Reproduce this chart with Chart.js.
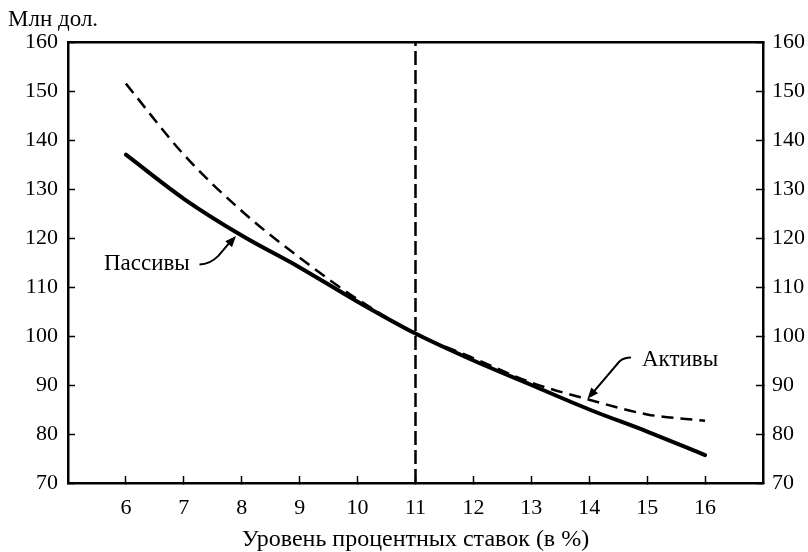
<!DOCTYPE html>
<html>
<head>
<meta charset="utf-8">
<script src="https://cdn.jsdelivr.net/npm/chart.js@4"></script>
<style>
  html, body { margin: 0; padding: 0; background: #fff; }
</style>
</head>
<body>
<canvas id="chart" width="808" height="552"></canvas>
<script>
const rates = [6, 7, 8, 9, 10, 11, 12, 13, 14, 15, 16];
const liabilities = [137, 128, 120.5, 114, 107, 100.5, 95, 90, 85, 80.5, 75.7];
const assets = [151.5, 137, 125.5, 116, 107.5, 100.5, 95.5, 90.5, 87, 84, 82.7];
const xTicks = [6, 7, 8, 9, 10, 11, 12, 13, 14, 15, 16];
const yTicks = [70, 80, 90, 100, 110, 120, 130, 140, 150, 160];
const markerRate = 11;

const serif = '"Liberation Serif", "DejaVu Serif", serif';
Chart.defaults.font.family = serif;
Chart.defaults.font.size = 22;
Chart.defaults.color = "#000";

const toPoints = (ys) => rates.map((r, i) => ({ x: r, y: ys[i] }));

function arrowHead(ctx, fx, fy, tx, ty, len, wid) {
  const a = Math.atan2(ty - fy, tx - fx);
  ctx.beginPath();
  ctx.moveTo(tx, ty);
  ctx.lineTo(tx - len * Math.cos(a) + wid * Math.sin(a), ty - len * Math.sin(a) - wid * Math.cos(a));
  ctx.lineTo(tx - len * Math.cos(a) - wid * Math.sin(a), ty - len * Math.sin(a) + wid * Math.cos(a));
  ctx.closePath();
  ctx.fill();
}

// caption, series labels and their arrows
const notes = {
  id: "notes",
  afterDraw(chart) {
    const { ctx } = chart;
    const x = chart.scales.x, y = chart.scales.y;
    const px = (v) => x.getPixelForValue(v);
    const py = (v) => y.getPixelForValue(v);
    ctx.save();
    ctx.fillStyle = "#000";
    ctx.strokeStyle = "#000";
    ctx.textBaseline = "middle";
    ctx.textAlign = "left";
    ctx.font = "23px " + serif;
    ctx.fillText("Млн дол.", 8, 20);

    ctx.fillText("Пассивы", px(5.62), py(114.7));
    ctx.lineWidth = 2;
    ctx.beginPath();
    ctx.moveTo(px(7.27), py(114.6));
    ctx.quadraticCurveTo(px(7.45), py(114.6), px(7.6), py(116.4));
    ctx.lineTo(px(7.8), py(119.2));
    ctx.stroke();
    arrowHead(ctx, px(7.6), py(116.4), px(7.9), py(120.4), 11, 4.5);

    ctx.fillText("Активы", px(14.91), py(95.1));
    ctx.beginPath();
    ctx.moveTo(px(14.72), py(95.6));
    ctx.quadraticCurveTo(px(14.6), py(95.6), px(14.52), py(94.8));
    ctx.lineTo(px(14.06), py(88.4));
    ctx.stroke();
    arrowHead(ctx, px(14.52), py(94.8), px(13.97), py(87.2), 11, 4.5);
    ctx.restore();
  }
};

const tickGrid = {
  drawOnChartArea: false,
  tickLength: -7,
  tickWidth: 1.5,
  color: "#000"
};
const frame = { color: "#000", width: 2.5 };

new Chart(document.getElementById("chart"), {
  type: "line",
  data: {
    datasets: [
      {
        label: "Пассивы",
        data: toPoints(liabilities),
        borderColor: "#000",
        borderWidth: 4,
        borderCapStyle: "round",
        cubicInterpolationMode: "monotone",
        pointRadius: 0
      },
      {
        label: "Активы",
        data: toPoints(assets),
        borderColor: "#000",
        borderWidth: 2.5,
        borderDash: [12, 7],
        cubicInterpolationMode: "monotone",
        pointRadius: 0
      },
      {
        label: "marker",
        data: [{ x: markerRate, y: 70 }, { x: markerRate, y: 160 }],
        borderColor: "#000",
        borderWidth: 2.5,
        borderDash: [14, 5],
        pointRadius: 0
      }
    ]
  },
  options: {
    responsive: false,
    animation: false,
    layout: { padding: { top: 42, left: 0, right: 0, bottom: 0 } },
    plugins: {
      legend: { display: false },
      tooltip: { enabled: false }
    },
    scales: {
      x: {
        type: "linear",
        min: 5,
        max: 17,
        afterBuildTicks: (s) => { s.ticks = xTicks.map((v) => ({ value: v })); },
        afterFit: (s) => { s.height = 69; },
        grid: tickGrid,
        border: frame,
        ticks: { padding: 19, maxRotation: 0 },
        title: {
          display: true,
          text: "Уровень процентных ставок (в %)",
          font: { size: 24, lineHeight: 1 },
          padding: { top: 0, bottom: 0 }
        }
      },
      x2: {
        type: "linear",
        position: "top",
        min: 5,
        max: 17,
        afterFit: (s) => { s.height = 0; },
        grid: { display: false },
        border: frame,
        ticks: { display: false }
      },
      y: {
        min: 70,
        max: 160,
        afterBuildTicks: (s) => { s.ticks = yTicks.map((v) => ({ value: v })); },
        afterFit: (s) => { s.width = 68; },
        grid: tickGrid,
        border: frame,
        ticks: { padding: 17 }
      },
      y2: {
        position: "right",
        min: 70,
        max: 160,
        afterBuildTicks: (s) => { s.ticks = yTicks.map((v) => ({ value: v })); },
        afterFit: (s) => { s.width = 45; },
        grid: tickGrid,
        border: frame,
        ticks: { padding: 16 }
      }
    }
  },
  plugins: [notes]
});
</script>
</body>
</html>
